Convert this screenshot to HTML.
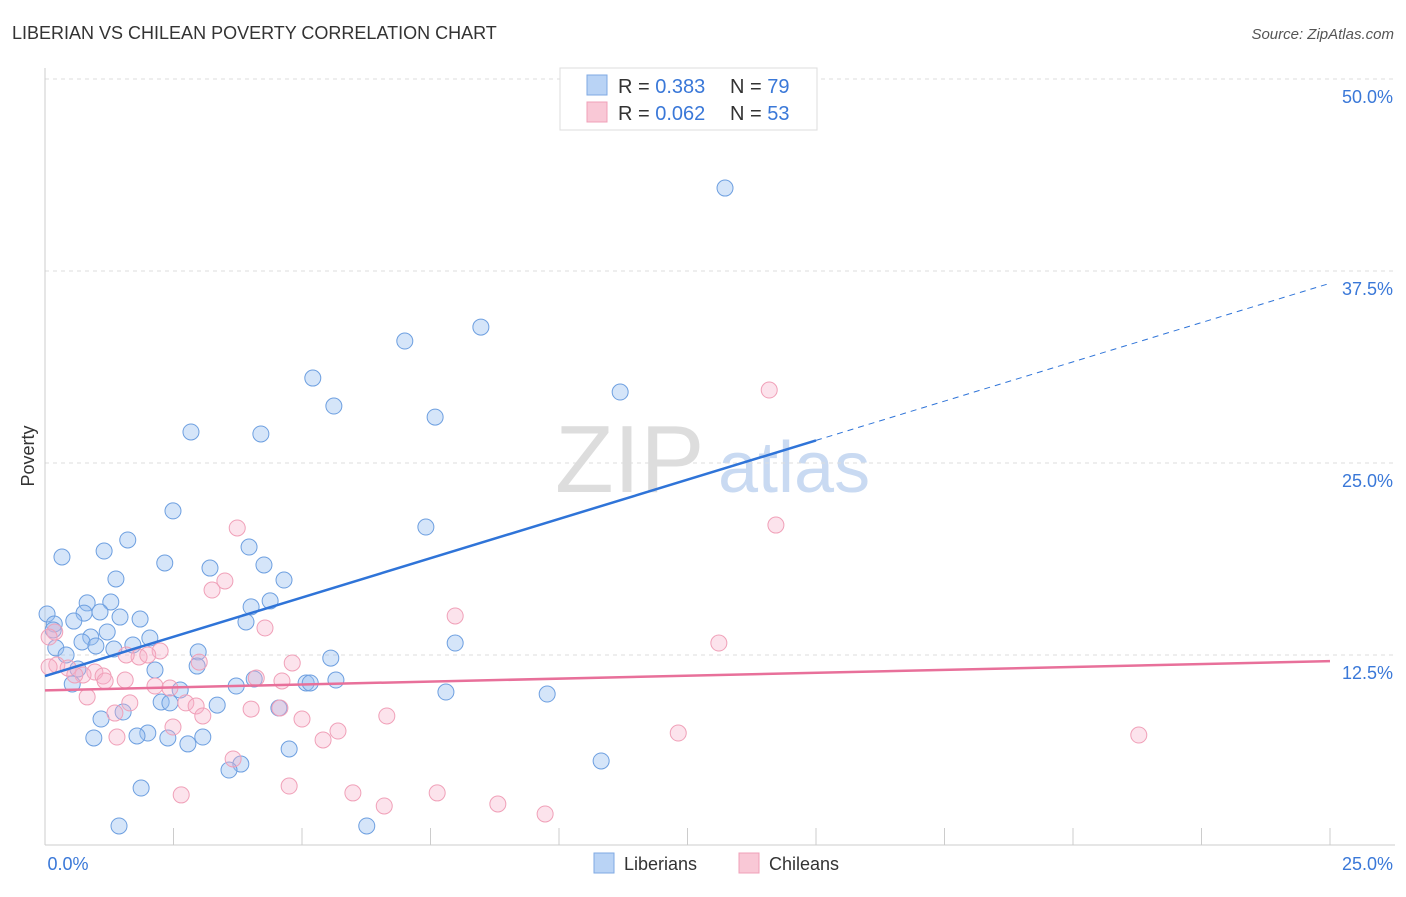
<!DOCTYPE html>
<html><head><meta charset="utf-8"><style>
body{margin:0;background:#fff;font-family:"Liberation Sans",sans-serif}
svg text{font-family:"Liberation Sans",sans-serif}
</style></head><body>
<svg id="c" width="1406" height="892">
<text x="12" y="39" font-size="18" fill="#333">LIBERIAN VS CHILEAN POVERTY CORRELATION CHART</text>
<text x="1394" y="39" font-size="15" fill="#555" font-style="italic" text-anchor="end">Source: ZipAtlas.com</text>
<g>
<text x="555" y="492" font-size="96" fill="#ddd" font-family="Liberation Serif">ZIP</text>
<text x="718" y="492" font-size="72" fill="#c9daf2">atlas</text>
</g>
<g id="grid"></g>
<g id="axes"></g>
<g id="pts"></g>
<g id="lines"></g>
<text x="34" y="456" font-size="18" fill="#333" text-anchor="middle" transform="rotate(-90 34 456)">Poverty</text>
<g>
<rect x="560" y="68" width="257" height="62" fill="#fff" stroke="#ddd"/>
<rect x="587" y="75" width="20" height="20" fill="#b9d3f5" stroke="#7fa9e3"/>
<rect x="587" y="102" width="20" height="20" fill="#f9c8d6" stroke="#f0a0b8"/>
<text x="618" y="93" font-size="20" fill="#333">R = <tspan fill="#3a78d8">0.383</tspan></text>
<text x="730" y="93" font-size="20" fill="#333">N = <tspan fill="#3a78d8">79</tspan></text>
<text x="618" y="120" font-size="20" fill="#333">R = <tspan fill="#3a78d8">0.062</tspan></text>
<text x="730" y="120" font-size="20" fill="#333">N = <tspan fill="#3a78d8">53</tspan></text>
</g>
<g>
<rect x="594" y="853" width="20" height="20" fill="#b9d3f5" stroke="#7fa9e3"/>
<text x="624" y="870" font-size="18" fill="#333">Liberians</text>
<rect x="739" y="853" width="20" height="20" fill="#f9c8d6" stroke="#f0a0b8"/>
<text x="769" y="870" font-size="18" fill="#333">Chileans</text>
</g>
</svg>
<script>
const yTicks=[12.5,25,37.5,50];
const yTickLabels=["12.5%","25.0%","37.5%","50.0%"];
const xTickLabels=["0.0%","25.0%"];
const blueX=[13.23,8.48,7.0,5.21,11.19,5.62,7.59,2.84,4.2,2.49,7.41,0.33,1.61,1.15,3.97,2.33,3.21,4.26,1.38,4.65,4.38,0.82,1.28,4.01,0.04,1.07,0.76,1.46,1.85,0.56,0.18,3.91,0.16,1.21,2.04,0.89,0.72,7.98,0.99,1.71,0.21,1.34,0.41,2.98,5.56,2.96,2.14,0.64,4.07,5.66,0.53,5.08,5.16,3.72,2.63,7.8,9.77,2.26,2.43,3.35,4.55,1.52,1.09,2.0,1.79,0.95,2.39,3.07,2.78,4.75,10.82,3.81,3.58,1.87,1.44,6.26];
const blueY=[42.9,33.85,32.94,30.53,29.62,28.71,27.99,27.02,26.89,21.88,20.83,18.88,19.99,19.27,19.53,18.49,18.16,18.36,17.45,17.38,16.02,15.89,15.95,15.63,15.17,15.3,15.23,14.97,14.84,14.71,14.52,14.65,14.13,14.0,13.61,13.67,13.35,13.28,13.09,13.15,12.96,12.89,12.5,12.7,12.3,11.78,11.52,11.59,10.94,10.87,10.61,10.68,10.68,10.48,10.22,10.09,9.96,9.44,9.38,9.24,9.05,8.79,8.33,7.42,7.23,7.1,7.1,7.16,6.71,6.38,5.6,5.4,5.01,3.84,1.37,1.37];
const pinkX=[14.09,3.74,14.22,3.5,3.25,7.98,4.28,13.11,0.19,0.08,2.24,1.83,2.0,3.0,4.81,0.23,0.45,1.58,0.97,0.74,1.13,4.11,4.61,1.56,2.14,2.43,1.17,0.82,1.65,2.74,2.94,4.01,4.57,1.36,3.07,6.65,5.0,2.49,5.7,5.41,12.32,1.4,21.28,3.66,4.75,2.65,5.99,7.63,8.81,6.6,9.73,0.08,0.58];
const pinkY=[29.75,20.77,20.96,17.32,16.73,15.04,14.26,13.28,14.0,13.67,12.76,12.37,12.5,12.04,11.98,11.85,11.65,12.5,11.39,11.2,11.13,11.0,10.81,10.87,10.48,10.35,10.81,9.77,9.38,9.38,9.18,8.98,9.05,8.72,8.53,8.53,8.33,7.81,7.55,6.97,7.42,7.16,7.29,5.73,3.97,3.39,3.52,3.52,2.8,2.67,2.15,11.72,11.2];
const blueTrend=[11.13,36.7]; // at x=0 and x=25
const pinkTrend=[10.2,12.1];
const blueSolidEnd=15;

const NS="http://www.w3.org/2000/svg";
const X=v=>45+v*51.4, Y=v=>847-v*15.36;
function mk(p,t,a){const e=document.createElementNS(NS,t);for(const k in a)e.setAttribute(k,a[k]);document.getElementById(p).appendChild(e);return e;}
yTicks.forEach((t,i)=>{
 const g=mk('grid','line',{x1:45,x2:1395,y1:Y(t),y2:Y(t),stroke:'#ddd','stroke-dasharray':'4,4'});
 
 
 const l=mk('axes','text',{x:1393,y:Y(t)+24,'font-size':18,fill:'#3a78d8','text-anchor':'end'});
 l.textContent=yTickLabels[i];
 
 
});
let a=mk('axes','line',{x1:45,x2:45,y1:68,y2:845,stroke:'#ccc'});


a=mk('axes','line',{x1:45,x2:1395,y1:845,y2:845,stroke:'#ccc'});


for(let i=0;i<=10;i++){
 const t=mk('axes','line',{x1:X(i*2.5),x2:X(i*2.5),y1:828,y2:845,stroke:'#ccc'});
 
 
}
[[0,68,'middle'],[25,1393,'end']].forEach((d,i)=>{
 const l=mk('axes','text',{x:d[1],y:870,'font-size':18,fill:'#3a78d8','text-anchor':d[2]});
 l.textContent=xTickLabels[i];
 
 
});
blueX.forEach((v,i)=>{
 const c=mk('pts','circle',{cx:X(v),cy:Y(blueY[i]),r:8,fill:'rgba(150,190,240,0.4)',stroke:'#6d9fe0','stroke-width':1});
 
 
});
pinkX.forEach((v,i)=>{
 const c=mk('pts','circle',{cx:X(v),cy:Y(pinkY[i]),r:8,fill:'rgba(245,175,200,0.35)',stroke:'#f0a0b8','stroke-width':1});
 
 
});
const bAt=x=>blueTrend[0]+(blueTrend[1]-blueTrend[0])*x/25;
let ln=mk('lines','line',{x1:X(0),y1:Y(bAt(0)),x2:X(blueSolidEnd),y2:Y(bAt(blueSolidEnd)),stroke:'#2f74d8','stroke-width':2.5});


ln=mk('lines','line',{x1:X(blueSolidEnd),y1:Y(bAt(blueSolidEnd)),x2:X(25),y2:Y(bAt(25)),stroke:'#2f74d8','stroke-width':1,'stroke-dasharray':'6,5'});


ln=mk('lines','line',{x1:X(0),y1:Y(pinkTrend[0]),x2:X(25),y2:Y(pinkTrend[1]),stroke:'#e8709a','stroke-width':2.5});


</script>
</body></html>
